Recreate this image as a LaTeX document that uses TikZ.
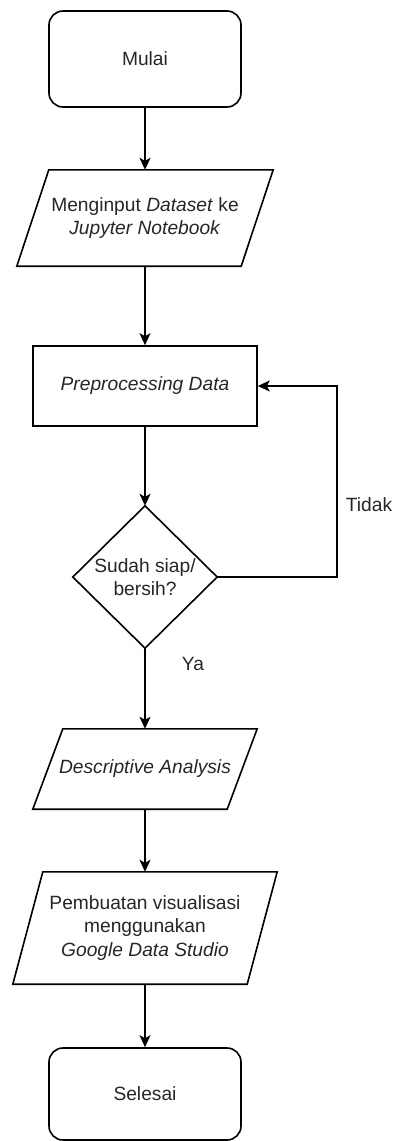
\documentclass[tikz,border=0pt]{standalone}
\usepackage{fontspec}
\setmainfont{Liberation Sans}
\usetikzlibrary{arrows.meta,calc}
\begin{document}
\begin{tikzpicture}[x=1pt,y=-1pt,
  base/.style={font=\fontsize{19.2}{23.3}\selectfont, text=black!85, align=center, inner sep=0pt},
  term/.style={base, draw, line width=1.6pt, rounded corners=14pt, minimum width=192pt, minimum height=96pt},
  proc/.style={base, draw, line width=1.6pt, minimum width=224pt, minimum height=80pt},
  frame/.style={base, draw=none},
  outline/.style={line width=1.6pt, line join=miter},
  conn/.style={line width=1.6pt, -{Stealth[length=12pt,width=11pt,inset=3pt]}},
  lbl/.style={base}
]
\useasboundingbox (0,0) rectangle (396,1141);
\node[term] (mulai) at (145,59) {Mulai};
\node[frame, minimum width=256pt, minimum height=96pt] (input) at (145,218) {Menginput \textit{Dataset} ke\\\textit{Jupyter Notebook}};
\draw[outline] ($(input.north west)+(32,0)$) -- (input.north east) -- ($(input.south east)-(32,0)$) -- (input.south west) -- cycle;
\node[proc] (prep) at (145,386) {\textit{Preprocessing Data}};
\node[frame, minimum width=144pt, minimum height=142pt] (cek) at (145,577) {Sudah siap/\\bersih?};
\draw[outline] (cek.north) -- (cek.east) -- (cek.south) -- (cek.west) -- cycle;
\node[frame, minimum width=224pt, minimum height=80pt] (desc) at (145,769) {\textit{Descriptive Analysis}};
\draw[outline] ($(desc.north west)+(30,0)$) -- (desc.north east) -- ($(desc.south east)-(30,0)$) -- (desc.south west) -- cycle;
\node[frame, minimum width=264pt, minimum height=112pt] (vis) at (145,928) {Pembuatan visualisasi\\menggunakan\\\textit{Google Data Studio}};
\draw[outline] ($(vis.north west)+(30,0)$) -- (vis.north east) -- ($(vis.south east)-(30,0)$) -- (vis.south west) -- cycle;
\node[term, minimum height=92pt] (selesai) at (145,1094) {Selesai};
\coordinate (loop) at (337,386);
\draw[conn] (mulai.south) -- (input.north);
\draw[conn] (input.south) -- (prep.north);
\draw[conn] (prep.south) -- (cek.north);
\draw[conn] (cek.east) -| (loop) -- (prep.east);
\draw[conn] (cek.south) -- (desc.north);
\draw[conn] (desc.south) -- (vis.north);
\draw[conn] (vis.south) -- (selesai.north);
\node[lbl] (tidak) at (369,505) {Tidak};
\node[lbl] (ya) at (193,664) {Ya};
\end{tikzpicture}
\end{document}
